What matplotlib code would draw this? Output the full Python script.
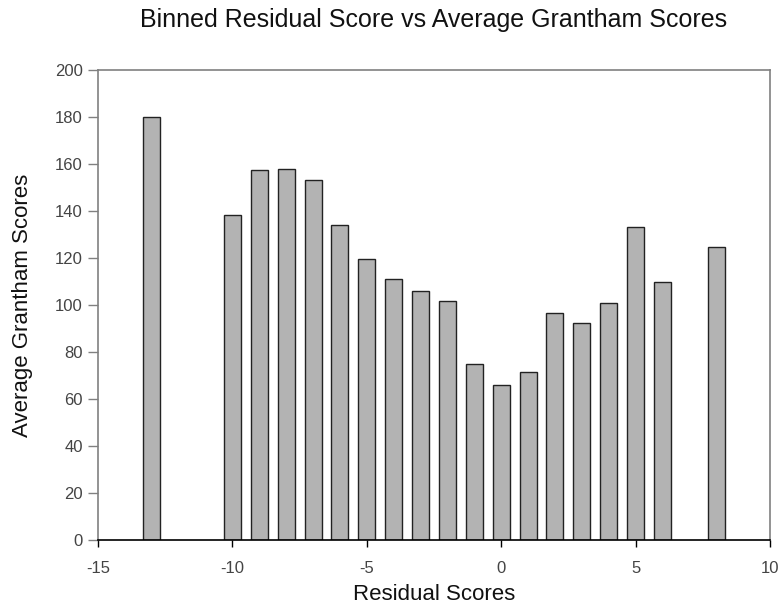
import matplotlib
matplotlib.use("Agg")
import matplotlib.pyplot as plt

residual_scores = [-13, -10, -9, -8, -7, -6, -5, -4, -3, -2, -1, 0, 1, 2, 3, 4, 5, 6, 8]
avg_grantham = [180, 138.5, 157.5, 158, 153, 134, 119.5, 111, 106, 101.5, 75, 66, 71.5, 96.5, 92.5, 101, 133, 110, 124.5]
x_ticks = [-15, -10, -5, 0, 5, 10]
y_ticks = [0, 20, 40, 60, 80, 100, 120, 140, 160, 180, 200]

plt.rcParams['font.family'] = ['Liberation Sans', 'DejaVu Sans']

fig = plt.figure(figsize=(7.82, 6.06), dpi=100)
ax = fig.add_axes([98/782, 1-540/606, (770-98)/782, (540-70)/606])

ax.bar(residual_scores, avg_grantham, width=0.63, color='#b3b3b3',
       edgecolor='#222222', linewidth=1.0, zorder=2)

ax.set_xlim(-15, 10)
ax.set_ylim(0, 200)
ax.set_xticks(x_ticks)
ax.set_yticks(y_ticks)
ax.set_xticklabels([str(t) for t in x_ticks])
ax.set_yticklabels([str(t) for t in y_ticks])

for s in ['top', 'right', 'left']:
    ax.spines[s].set_color('#808080')
    ax.spines[s].set_linewidth(1.2)
ax.spines['bottom'].set_color('#000000')
ax.spines['bottom'].set_linewidth(1.2)

ax.tick_params(axis='y', direction='out', length=7, width=1, color='#808080',
               labelsize=12, labelcolor='#444444', pad=4)
ax.tick_params(axis='x', direction='out', length=5, width=1, color='#000000',
               labelsize=12, labelcolor='#444444', pad=10)

ax.set_xlabel('Residual Scores', fontsize=16, color='#111111', va='baseline')
ax.xaxis.set_label_coords(0.5, (540-600)/470)
ax.set_ylabel('Average Grantham Scores', fontsize=16, color='#111111', va='center')
ax.yaxis.set_label_coords((22.5-98)/672, 0.5)
fig.text(434/782, 1-27/606, 'Binned Residual Score vs Average Grantham Scores',
         ha='center', va='baseline', fontsize=18, color='#111111')

fig.savefig('out.png', dpi=100)
